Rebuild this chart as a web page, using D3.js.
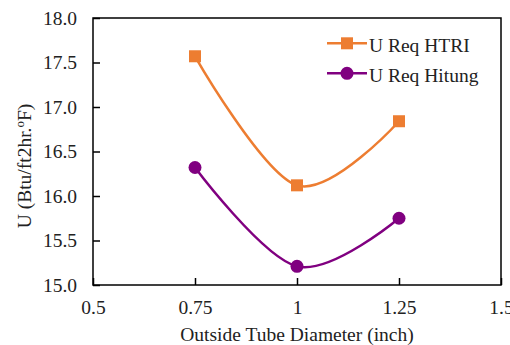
<!DOCTYPE html>
<html><head><meta charset="utf-8">
<script src="https://cdn.jsdelivr.net/npm/d3@7"></script>
<style>body{margin:0;background:#fff}svg{display:block}</style>
</head><body>
<script>
const xValues = [0.75, 1, 1.25];
const htri = [17.57, 16.12, 16.84];
const hitung = [16.32, 15.21, 15.75];
const xTicks = [0.5, 0.75, 1, 1.25, 1.5];
const yTicks = [15.0, 15.5, 16.0, 16.5, 17.0, 17.5, 18.0];
const seriesNames = ["U Req HTRI", "U Req Hitung"];
const colors = ["#ED7D31", "#800080"];

const FONT = "Liberation Serif";
const W = 510, H = 345;
const m = {l: 93, r: 9, t: 18, b: 60};
const svg = d3.select("body").append("svg").attr("width", W).attr("height", H);
const x = d3.scaleLinear().domain([0.5, 1.5]).range([m.l, W - m.r]);
const y = d3.scaleLinear().domain([15, 18]).range([H - m.b, m.t]);
const fs = 19.5;

function styleText(sel, size) {
  sel.style("font-family", FONT).style("font-size", size + "px").style("fill", "#222");
}

const gx = svg.append("g").attr("transform", `translate(0,${H - m.b})`)
  .call(d3.axisBottom(x).tickValues(xTicks).tickSize(-7).tickPadding(15).tickFormat(d => String(d)));
const gy = svg.append("g").attr("transform", `translate(${m.l},0)`)
  .call(d3.axisLeft(y).tickValues(yTicks).tickSize(-7).tickPadding(16).tickFormat(d3.format(".1f")));
[gx, gy].forEach(g => {
  g.attr("font-family", FONT).attr("font-size", fs);
  g.select(".domain").remove();
  g.selectAll("line").attr("stroke", "#000").attr("stroke-width", 1.5);
  styleText(g.selectAll("text"), fs);
});
svg.append("rect").attr("x", m.l).attr("y", m.t).attr("width", W - m.r - m.l).attr("height", H - m.b - m.t)
  .attr("fill", "none").attr("stroke", "#000").attr("stroke-width", 1.5);

const line = d3.line().x((d, i) => x(xValues[i])).y(d => y(d)).curve(d3.curveCardinal.tension(0));
const data = [htri, hitung];
data.forEach((s, k) => {
  svg.append("path").attr("d", line(s)).attr("fill", "none").attr("stroke", colors[k]).attr("stroke-width", 2.5);
  if (k === 0) {
    svg.selectAll(null).data(s).enter().append("rect")
      .attr("x", (d, i) => x(xValues[i]) - 6).attr("y", d => y(d) - 6)
      .attr("width", 12).attr("height", 12).attr("fill", colors[k]);
  } else {
    svg.selectAll(null).data(s).enter().append("circle")
      .attr("cx", (d, i) => x(xValues[i])).attr("cy", d => y(d)).attr("r", 6.5).attr("fill", colors[k]);
  }
});

const lg = svg.append("g");
seriesNames.forEach((n, k) => {
  const yy = 43.3 + k * 30, x0 = 327, x1 = 367, cx = 347;
  lg.append("line").attr("x1", x0).attr("x2", x1).attr("y1", yy).attr("y2", yy).attr("stroke", colors[k]).attr("stroke-width", 2.5);
  if (k === 0) lg.append("rect").attr("x", cx - 6).attr("y", yy - 6).attr("width", 12).attr("height", 12).attr("fill", colors[k]);
  else lg.append("circle").attr("cx", cx).attr("cy", yy).attr("r", 6.5).attr("fill", colors[k]);
  styleText(lg.append("text").attr("x", 369).attr("y", yy + 8.5).text(n), fs);
});

styleText(svg.append("text").attr("x", (m.l + W - m.r) / 2).attr("y", 341).attr("text-anchor", "middle")
  .text("Outside Tube Diameter (inch)"), fs);
const yt = svg.append("text").attr("transform", `translate(31,166) rotate(-90)`)
  .attr("text-anchor", "middle");
styleText(yt, fs);
yt.append("tspan").text("U (Btu/ft2hr.");
yt.append("tspan").style("font-size", "13px").attr("dy", -7).text("o");
yt.append("tspan").attr("dy", 7).text("F)");
</script>
</body></html>
